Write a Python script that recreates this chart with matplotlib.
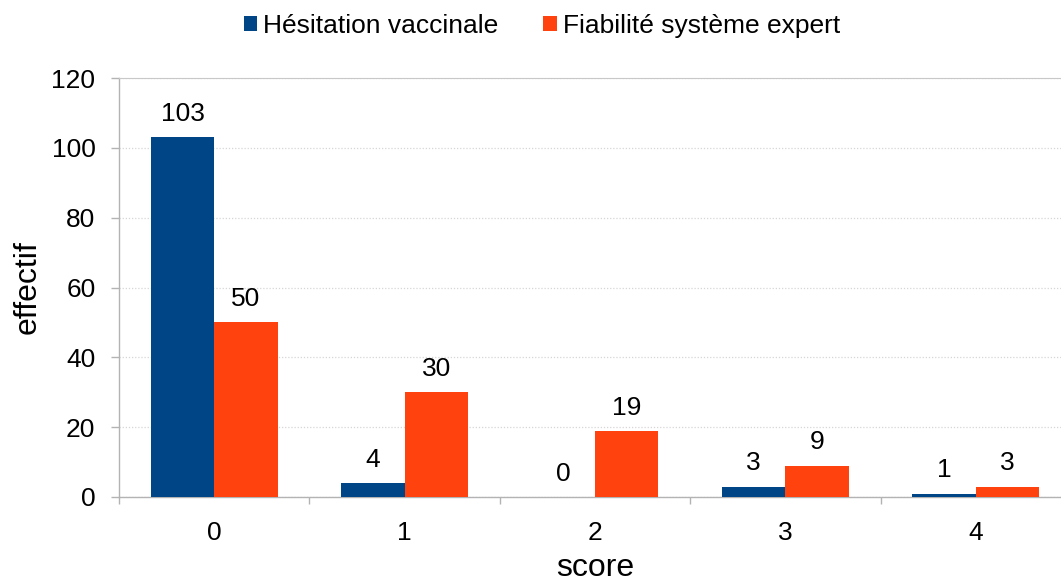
import numpy as np
import matplotlib.pyplot as plt
from matplotlib.ticker import MultipleLocator, FixedLocator

plt.rcParams['font.family'] = ['Liberation Sans', 'DejaVu Sans']

# data
scores = [0, 1, 2, 3, 4]
hesitation = [103, 4, 0, 3, 1]
fiabilite = [50, 30, 19, 9, 3]
series_names = ['Hésitation vaccinale', 'Fiabilité système expert']

blue = '#004586'
orange = '#ff420e'
axis_grey = '#b3b3b3'

fig = plt.figure(figsize=(10.61, 5.82), dpi=100)
ax = fig.add_axes([119 / 1061, 85 / 582, 952 / 1061, 419 / 582])

x = np.arange(len(scores))
w = 1 / 3
b1 = ax.bar(x - w / 2, hesitation, w, color=blue, label=series_names[0], zorder=3)
b2 = ax.bar(x + w / 2, fiabilite, w, color=orange, label=series_names[1], zorder=3)
ax.bar_label(b1, padding=8, fontsize=19)
ax.bar_label(b2, padding=8, fontsize=19)

ax.set_xlim(-0.5, len(scores) - 0.5)
ax.set_ylim(0, 120)
ax.yaxis.set_major_locator(MultipleLocator(20))
ax.set_xticks(x)
ax.set_xticklabels([str(s) for s in scores])
ax.xaxis.set_minor_locator(FixedLocator(np.arange(-0.5, len(scores), 1)))

ax.tick_params(axis='x', which='major', length=0, pad=17, labelsize=19)
ax.tick_params(axis='x', which='minor', length=5, width=1, color=axis_grey)
ax.tick_params(axis='y', length=6, width=1, color=axis_grey, pad=11, labelsize=19)

ax.grid(axis='y', linestyle=(0, (1, 1.5)), color='#d6d6d6', linewidth=0.9, zorder=0)

for s in ['left', 'bottom']:
    ax.spines[s].set_color(axis_grey)
    ax.spines[s].set_linewidth(1)
ax.spines['top'].set_color('#c8c8c8')
ax.spines['right'].set_visible(False)

ax.set_xlabel('score', fontsize=23, labelpad=6)
ax.set_ylabel('effectif', fontsize=23, labelpad=6)

fig.legend(loc='center', bbox_to_anchor=(542 / 1061, 1 - 26 / 582), ncol=2,
           frameon=False, fontsize=19, handlelength=0.5, handleheight=0.5,
           handletextpad=0.25, columnspacing=1.7, borderpad=0)

fig.savefig('out.png', dpi=100)
